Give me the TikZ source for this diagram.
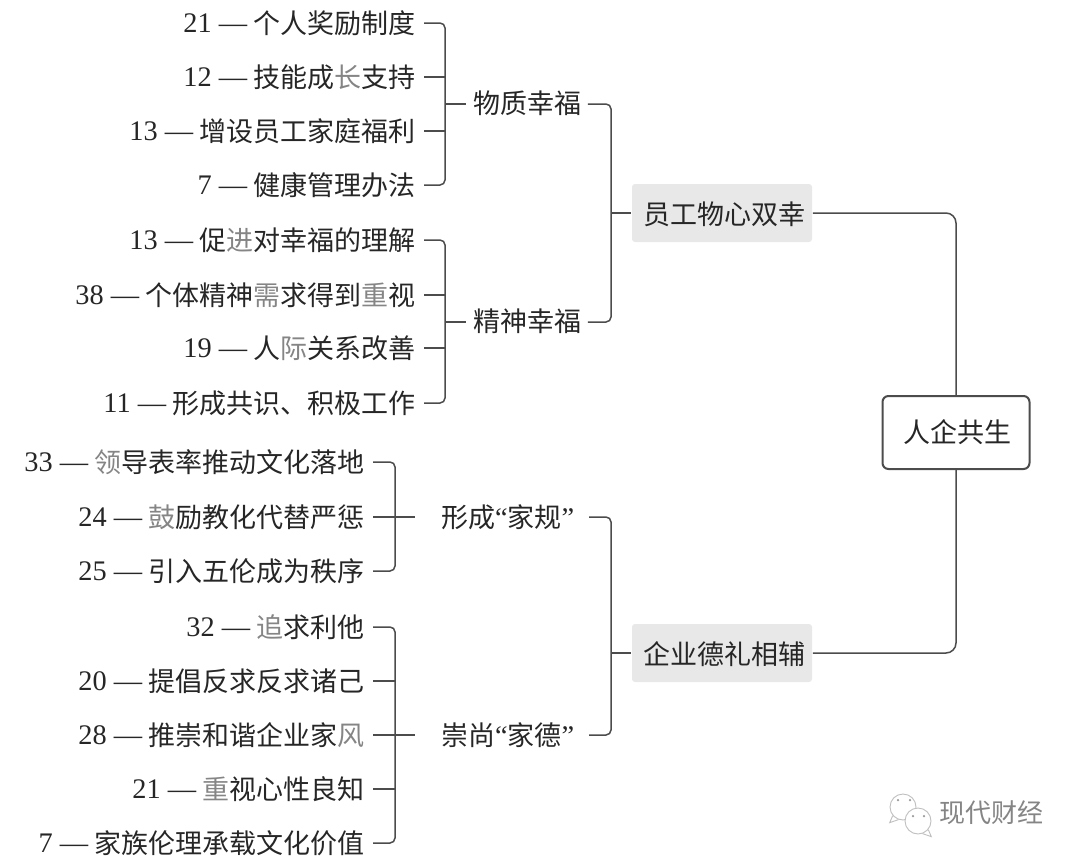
\documentclass[tikz,border=0pt]{standalone}
\usepackage{fontspec}
\setmainfont{Noto Sans CJK SC}
\newfontfamily\numfont[Scale=1.05]{Liberation Serif}
\newcommand{\num}[1]{\raisebox{1.5pt}{\numfont #1 —} }
\newcommand{\quo}[1]{{\numfont “}#1{\numfont ”}}
\newcommand{\faded}[1]{\textcolor{black!48}{#1}}
\begin{document}
\begin{tikzpicture}
[x=1pt, y=-1pt, font=\fontsize{27}{30}\selectfont, text=black!85, line width=1.5pt]
\tikzstyle{leaf}=[anchor=east, inner xsep=8pt, inner ysep=0pt, text height=23pt, text depth=2pt]
\tikzstyle{hub}=[inner xsep=6pt, inner ysep=0pt, text height=20pt, text depth=2pt]
\tikzstyle{widehub}=[hub, anchor=east, inner xsep=14pt, text height=22pt, text width=145pt, align=right]
\tikzstyle{pillar}=[hub, text height=24pt, fill=black!9, rounded corners=3pt, minimum width=180pt, minimum height=58pt, execute at begin node=\hspace*{5pt}]
\tikzstyle{root}=[hub, text height=22pt, draw=black!70, fill=white, line width=2pt, rounded corners=6pt, minimum width=147pt, minimum height=73pt, execute at begin node=\hspace*{2pt}]
\tikzstyle{link}=[draw=black!70, rounded corners=5pt]
\tikzstyle{bubble}=[circle, draw=black!25, fill=white, line width=0.9pt, inner sep=0pt, minimum size=26pt]
\tikzstyle{eye}=[circle, fill=black!40, inner sep=0pt, minimum size=2.5pt]
\useasboundingbox (0,0) rectangle (1080,860);

\node[leaf]	(A1)	at (424,23)	{\num{21}个人奖励制度};
\node[leaf]	(A2)	at (424,77)	{\num{12}技能成\faded{长}支持};
\node[leaf]	(A3)	at (424,131)	{\num{13}增设员工家庭福利};
\node[leaf]	(A4)	at (424,185)	{\num{7}健康管理办法};
\node[leaf]	(B1)	at (424,240)	{\num{13}促\faded{进}对幸福的理解};
\node[leaf]	(B2)	at (424,295)	{\num{38}个体精神\faded{需}求得到\faded{重}视};
\node[leaf]	(B3)	at (424,348)	{\num{19}人\faded{际}关系改善};
\node[leaf]	(B4)	at (424,403)	{\num{11}形成共识、积极工作};
\node[leaf]	(C1)	at (373,462)	{\num{33}\faded{领}导表率推动文化落地};
\node[leaf]	(C2)	at (373,517)	{\num{24}\faded{鼓}励教化代替严惩};
\node[leaf]	(C3)	at (373,571)	{\num{25}引入五伦成为秩序};
\node[leaf]	(D1)	at (373,627)	{\num{32}\faded{追}求利他};
\node[leaf]	(D2)	at (373,681)	{\num{20}提倡反求反求诸己};
\node[leaf]	(D3)	at (373,735)	{\num{28}推崇和谐企业家\faded{风}};
\node[leaf]	(D4)	at (373,789)	{\num{21}\faded{重}视心性良知};
\node[leaf]	(D5)	at (373,843)	{\num{7}家族伦理承载文化价值};

\node[hub]	(MatHub)	at (527,104)	{物质幸福};
\node[hub]	(SpiHub)	at (527,322)	{精神幸福};
\node[widehub]	(RulHub)	at (589,517)	{形成\quo{家规}};
\node[widehub]	(VirHub)	at (589,735)	{崇尚\quo{家德}};
\node[pillar]	(Staff)	at (722,213)	{员工物心双幸};
\node[pillar]	(Firm)	at (722,653)	{企业德礼相辅};
\node[root]	(Root)	at (956,432.5)	{人企共生};

\coordinate	(MatBar)	at (445,104);
\coordinate	(SpiBar)	at (445,322);
\coordinate	(RulBar)	at (395,517);
\coordinate	(VirBar)	at (395,735);
\coordinate	(StaBar)	at (611,213);
\coordinate	(FirBar)	at (611,653);

\draw[link]	(A1.east) -| (MatBar) |- (A4.east);
\draw[link]	(A2.east) -- (A2.east -| MatBar);
\draw[link]	(A3.east) -- (A3.east -| MatBar);
\draw[link]	(MatBar) -- (MatHub.west);
\draw[link]	(B1.east) -| (SpiBar) |- (B4.east);
\draw[link]	(B2.east) -- (B2.east -| SpiBar);
\draw[link]	(B3.east) -- (B3.east -| SpiBar);
\draw[link]	(SpiBar) -- (SpiHub.west);
\draw[link]	(C1.east) -| (RulBar) |- (C3.east);
\draw[link]	(C2.east) -- (RulHub.west);
\draw[link]	(D1.east) -| (VirBar) |- (D5.east);
\draw[link]	(D2.east) -- (D2.east -| VirBar);
\draw[link]	(D4.east) -- (D4.east -| VirBar);
\draw[link]	(D3.east) -- (VirHub.west);
\draw[link]	(MatHub.east) -| (StaBar) |- (SpiHub.east);
\draw[link]	(StaBar) -- (Staff.west);
\draw[link]	(RulHub.east) -| (FirBar) |- (VirHub.east);
\draw[link]	(FirBar) -- (Firm.west);
\draw[link, rounded corners=10pt]	(Staff.east) -| (Root.north);
\draw[link, rounded corners=10pt]	(Firm.east) -| (Root.south);

\node[bubble]	(Wx1)	at (903,807)	{};
\draw[draw=black!25, line width=0.9pt]	(Wx1.220) -- ++(-3,7) -- (Wx1.250);
\node[bubble]	(Wx2)	at (918,821)	{};
\draw[draw=black!25, line width=0.9pt]	(Wx2.-40) -- ++(3,7) -- (Wx2.-70);
\node[eye]	(Eye1)	at (898,800)	{};
\node[eye]	(Eye2)	at (910,800)	{};
\node[eye]	(Eye3)	at (913,816)	{};
\node[eye]	(Eye4)	at (924,816)	{};
\node[hub, text=black!48, font=\fontsize{26}{30}\selectfont]	(Mark)	at (991,813)	{现代财经};
\end{tikzpicture}
\end{document}
